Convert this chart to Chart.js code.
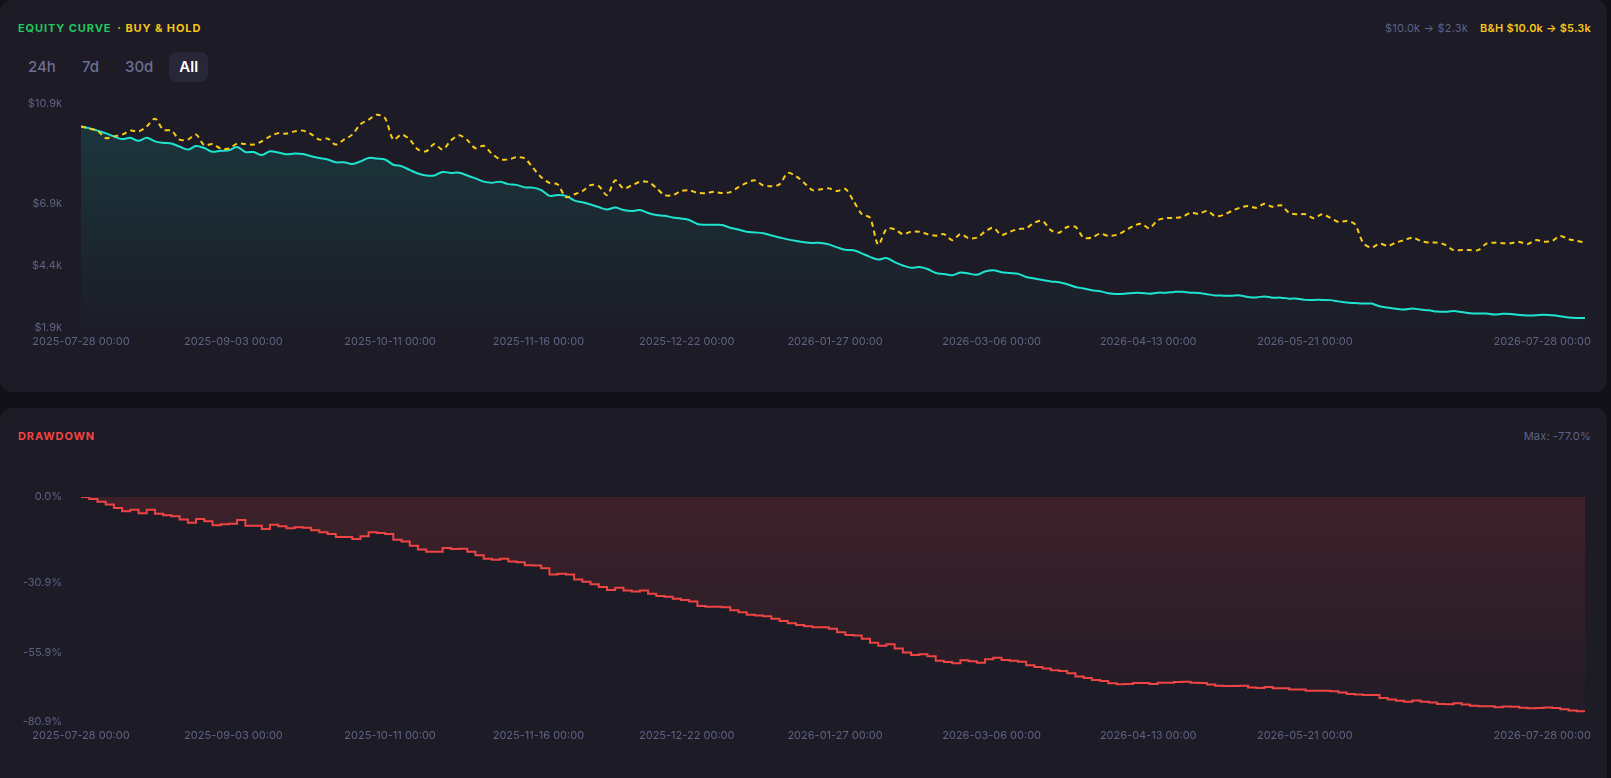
<!DOCTYPE html>
<html>
<head>
<meta charset="utf-8">
<script src="https://cdn.jsdelivr.net/npm/chart.js@4.4.0/dist/chart.umd.min.js"></script>
<style>
    body {
        margin: 0;
        width: 1611px;
        height: 778px;
        overflow: hidden;
        position: relative;
        background: #121119;
        font-family: Inter, "Noto Sans", sans-serif;
    }
    .card {
        position: absolute;
        left: 0;
        width: 1607px;
        background: #1c1b26;
        border-radius: 12px;
    }
    #card1 { top: 0; height: 392px; }
    #card2 { top: 408px; height: 400px; }
    .title {
        position: absolute;
        left: 18px;
        top: 21px;
        font-size: 11px;
        line-height: 14px;
        font-weight: 700;
        letter-spacing: 0.9px;
    }
    .title .gap { display: inline-block; width: 6px; }
    .info {
        position: absolute;
        right: 16px;
        top: 21px;
        font-size: 11px;
        line-height: 14px;
        display: flex;
        gap: 12px;
        color: #5e6383;
        letter-spacing: 0.2px;
    }
    .tabs {
        position: absolute;
        left: 18px;
        top: 52px;
        display: flex;
        gap: 6px;
    }
    .tab {
        height: 30px;
        line-height: 30px;
        padding: 0 10px;
        font-size: 15px;
        font-weight: 500;
        color: #6b7091;
        border-radius: 7px;
    }
    .tab.on {
        background: #282737;
        color: #ffffff;
        font-weight: 600;
    }
    .wrap { position: absolute; left: 0; width: 1607px; }
    #wrap1 { top: 80px; height: 280px; }
    #wrap2 { top: 470px; height: 290px; }
</style>
</head>
<body>

<div class="card" id="card1">
    <div class="title"><span style="color:#22c55e">EQUITY CURVE</span><span class="gap"></span><span style="color:#f5c518">· BUY &amp; HOLD</span></div>
    <div class="info"><span>$10.0k → $2.3k</span><span style="color:#f5c518;font-weight:600">B&amp;H $10.0k → $5.3k</span></div>
    <div class="tabs">
        <div class="tab">24h</div>
        <div class="tab">7d</div>
        <div class="tab">30d</div>
        <div class="tab on">All</div>
    </div>
</div>

<div class="card" id="card2">
    <div class="title" style="color:#ef4444">DRAWDOWN</div>
    <div class="info"><span>Max: -77.0%</span></div>
</div>

<div class="wrap" id="wrap1"><canvas id="equityChart"></canvas></div>
<div class="wrap" id="wrap2"><canvas id="drawdownChart"></canvas></div>

<script>
/* Data (one point every ~2 days) */

const startDate = "2025-07-28 00:00";
const endDate = "2026-07-28 00:00";

const xTickLabels = [
    "2025-07-28 00:00", "2025-09-03 00:00", "2025-10-11 00:00", "2025-11-16 00:00",
    "2025-12-22 00:00", "2026-01-27 00:00", "2026-03-06 00:00", "2026-04-13 00:00",
    "2026-05-21 00:00", "2026-07-28 00:00"
];

// $k
const equityTicks = [1.9, 4.4, 6.9, 10.9];
const drawdownTicks = [-80.9, -55.9, -30.9, 0];

// strategy equity, $k
const equity = [
    10.00, 9.93, 9.83, 9.73, 9.60, 9.49, 9.54, 9.42, 9.54, 9.40,
    9.34, 9.31, 9.19, 9.07, 9.21, 9.13, 8.98, 9.02, 9.04, 9.17,
    8.97, 8.97, 8.85, 9.00, 8.95, 8.88, 8.91, 8.89, 8.80, 8.73,
    8.67, 8.56, 8.56, 8.49, 8.59, 8.73, 8.71, 8.67, 8.46, 8.40,
    8.25, 8.11, 8.03, 8.03, 8.17, 8.13, 8.14, 8.03, 7.91, 7.78,
    7.74, 7.78, 7.68, 7.65, 7.55, 7.54, 7.44, 7.21, 7.24, 7.21,
    7.03, 6.95, 6.86, 6.76, 6.66, 6.74, 6.64, 6.60, 6.64, 6.52,
    6.44, 6.41, 6.34, 6.30, 6.24, 6.08, 6.05, 6.05, 6.04, 5.93,
    5.86, 5.77, 5.74, 5.71, 5.62, 5.54, 5.46, 5.40, 5.35, 5.32,
    5.32, 5.26, 5.14, 5.04, 5.02, 4.90, 4.76, 4.65, 4.71, 4.55,
    4.41, 4.32, 4.35, 4.27, 4.11, 4.07, 4.02, 4.13, 4.09, 4.04,
    4.17, 4.22, 4.14, 4.11, 4.08, 3.95, 3.89, 3.83, 3.77, 3.74,
    3.66, 3.55, 3.49, 3.42, 3.38, 3.30, 3.27, 3.28, 3.31, 3.31,
    3.28, 3.32, 3.32, 3.35, 3.36, 3.32, 3.31, 3.26, 3.21, 3.20,
    3.20, 3.21, 3.15, 3.13, 3.17, 3.12, 3.12, 3.08, 3.08, 3.03,
    3.03, 3.03, 3.02, 2.97, 2.92, 2.90, 2.88, 2.88, 2.77, 2.72,
    2.67, 2.64, 2.68, 2.64, 2.61, 2.56, 2.55, 2.58, 2.54, 2.49,
    2.48, 2.48, 2.44, 2.47, 2.46, 2.42, 2.40, 2.41, 2.43, 2.41,
    2.37, 2.32, 2.30, 2.30
];

// buy & hold, $k
const buyHold = [
    10.00, 9.91, 9.83, 9.53, 9.60, 9.67, 9.83, 9.80, 10.00, 10.31,
    9.87, 9.83, 9.47, 9.47, 9.67, 9.24, 9.29, 9.11, 9.11, 9.31,
    9.29, 9.27, 9.40, 9.60, 9.73, 9.71, 9.80, 9.83, 9.69, 9.47,
    9.51, 9.27, 9.47, 9.67, 10.09, 10.27, 10.47, 10.33, 9.47, 9.67,
    9.47, 9.07, 9.00, 9.29, 9.07, 9.43, 9.64, 9.45, 9.12, 9.22,
    8.90, 8.68, 8.67, 8.76, 8.71, 8.33, 7.96, 7.73, 7.67, 7.16,
    7.27, 7.40, 7.64, 7.60, 7.24, 7.83, 7.51, 7.63, 7.77, 7.77,
    7.53, 7.24, 7.24, 7.40, 7.43, 7.33, 7.32, 7.37, 7.32, 7.36,
    7.56, 7.73, 7.83, 7.63, 7.60, 7.67, 8.13, 8.00, 7.73, 7.44,
    7.47, 7.51, 7.40, 7.49, 7.00, 6.48, 6.33, 5.25, 5.87, 5.87,
    5.67, 5.77, 5.77, 5.67, 5.61, 5.67, 5.43, 5.67, 5.51, 5.53,
    5.77, 5.93, 5.64, 5.77, 5.87, 5.91, 6.13, 6.20, 5.83, 5.73,
    5.96, 5.96, 5.53, 5.53, 5.69, 5.60, 5.64, 5.80, 5.99, 6.09,
    5.91, 6.23, 6.31, 6.33, 6.36, 6.53, 6.49, 6.60, 6.40, 6.44,
    6.60, 6.73, 6.80, 6.73, 6.89, 6.77, 6.83, 6.53, 6.47, 6.47,
    6.31, 6.47, 6.33, 6.16, 6.20, 6.07, 5.33, 5.13, 5.29, 5.20,
    5.33, 5.43, 5.53, 5.40, 5.33, 5.33, 5.24, 5.03, 5.03, 5.03,
    5.03, 5.29, 5.33, 5.31, 5.31, 5.36, 5.27, 5.43, 5.37, 5.40,
    5.60, 5.47, 5.40, 5.33
];

// drawdown, %
const drawdown = [
    0, -0.7, -1.7, -2.7, -4.0, -5.1, -4.6, -5.8, -4.6, -6.0,
    -6.6, -6.9, -8.1, -9.3, -7.9, -8.7, -10.2, -9.8, -9.6, -8.3,
    -10.3, -10.3, -11.5, -10.0, -10.5, -11.2, -10.9, -11.1, -12.0, -12.7,
    -13.3, -14.4, -14.4, -15.1, -14.1, -12.7, -12.9, -13.3, -15.4, -16.0,
    -17.5, -18.9, -19.7, -19.7, -18.3, -18.7, -18.6, -19.7, -20.9, -22.2,
    -22.6, -22.2, -23.2, -23.5, -24.5, -24.6, -25.6, -27.9, -27.6, -27.9,
    -29.7, -30.5, -31.4, -32.4, -33.4, -32.6, -33.6, -34.0, -33.6, -34.8,
    -35.6, -35.9, -36.6, -37.0, -37.6, -39.2, -39.5, -39.5, -39.6, -40.7,
    -41.4, -42.3, -42.6, -42.9, -43.8, -44.6, -45.4, -46.0, -46.5, -46.8,
    -46.8, -47.4, -48.6, -49.6, -49.8, -51.0, -52.4, -53.5, -52.9, -54.5,
    -55.9, -56.8, -56.5, -57.3, -58.9, -59.3, -59.8, -58.7, -59.1, -59.6,
    -58.3, -57.8, -58.6, -58.9, -59.2, -60.5, -61.1, -61.7, -62.3, -62.6,
    -63.4, -64.5, -65.1, -65.8, -66.2, -67.0, -67.3, -67.2, -66.9, -66.9,
    -67.2, -66.8, -66.8, -66.5, -66.4, -66.8, -66.9, -67.4, -67.9, -68.0,
    -68.0, -67.9, -68.5, -68.7, -68.3, -68.8, -68.8, -69.2, -69.2, -69.7,
    -69.7, -69.7, -69.8, -70.3, -70.8, -71.0, -71.2, -71.2, -72.3, -72.8,
    -73.3, -73.6, -73.2, -73.6, -73.9, -74.4, -74.5, -74.2, -74.6, -75.1,
    -75.2, -75.2, -75.6, -75.3, -75.4, -75.8, -76.0, -75.9, -75.7, -75.9,
    -76.3, -76.8, -77.0, -77.0
];

/* Helpers */

const tickColor = "#5e6383";

const toTime = label => Date.parse(label.replace(" ", "T") + ":00Z");

const t0 = toTime(startDate);
const t1 = toTime(endDate);

// points are evenly spaced between the first and last date
const toPoints = values => values.map((v, i) => ({
    x: t0 + i * (t1 - t0) / (values.length - 1),
    y: v
}));

const verticalGradient = (chart, top, bottom) => {
    const area = chart.chartArea;
    if (!area) return "transparent";
    const g = chart.ctx.createLinearGradient(0, area.top, 0, area.bottom);
    g.addColorStop(0, top);
    g.addColorStop(1, bottom);
    return g;
};

// date labels under the plot, kept inside the canvas
const dateLabels = {
    id: "dateLabels",
    afterDraw(chart) {
        const ctx = chart.ctx;
        const xs = chart.scales.x;
        ctx.save();
        ctx.font = "11px Inter, 'Noto Sans', sans-serif";
        ctx.fillStyle = tickColor;
        ctx.textAlign = "center";
        ctx.textBaseline = "middle";
        xTickLabels.forEach(label => {
            const w = ctx.measureText(label).width;
            let px = xs.getPixelForValue(toTime(label));
            px = Math.min(px, chart.width - 16 - w / 2);
            px = Math.max(px, w / 2 + 2);
            ctx.fillText(label, px, chart.chartArea.bottom + 14);
        });
        ctx.restore();
    }
};

const baseOptions = (ticks, format, padding) => ({
    responsive: true,
    maintainAspectRatio: false,
    animation: false,
    layout: { padding: padding },
    plugins: {
        legend: { display: false },
        tooltip: { enabled: false }
    },
    elements: { point: { radius: 0 } },
    scales: {
        x: {
            type: "linear",
            display: false,
            min: t0,
            max: t1
        },
        y: {
            min: ticks[0],
            max: ticks[ticks.length - 1],
            afterBuildTicks: s => { s.ticks = ticks.map(v => ({ value: v })); },
            afterFit: s => { s.width = 81; },
            grid: { display: false },
            border: { display: false },
            ticks: {
                padding: 11,
                color: tickColor,
                font: { size: 11, family: "Inter, 'Noto Sans', sans-serif" },
                callback: format
            }
        }
    }
});

document.addEventListener("DOMContentLoaded", () => {

    /* Equity Chart */

    new Chart(document.getElementById("equityChart"), {
        type: "line",
        data: {
            datasets: [{
                label: "Buy & Hold",
                data: toPoints(buyHold),
                borderColor: "#facc15",
                borderWidth: 2,
                borderDash: [5, 4],
                tension: 0.3,
                fill: false
            }, {
                label: "Equity",
                data: toPoints(equity),
                borderColor: "#1ee3cf",
                borderWidth: 2,
                tension: 0.35,
                fill: "start",
                backgroundColor: c => verticalGradient(c.chart, "rgba(30,227,207,0.15)", "rgba(30,227,207,0.01)")
            }]
        },
        options: baseOptions(equityTicks, v => "$" + v.toFixed(1) + "k", { top: 24, right: 22, bottom: 32, left: 0 }),
        plugins: [dateLabels]
    });

    /* Drawdown Chart */

    new Chart(document.getElementById("drawdownChart"), {
        type: "line",
        data: {
            datasets: [{
                label: "Drawdown",
                data: toPoints(drawdown),
                borderColor: "#ef4444",
                borderWidth: 2,
                stepped: true,
                fill: "origin",
                backgroundColor: c => verticalGradient(c.chart, "rgba(239,68,68,0.16)", "rgba(239,68,68,0.03)")
            }]
        },
        options: baseOptions(drawdownTicks, v => v.toFixed(1) + "%", { top: 27, right: 22, bottom: 38, left: 0 }),
        plugins: [dateLabels]
    });

});
</script>
</body>
</html>
